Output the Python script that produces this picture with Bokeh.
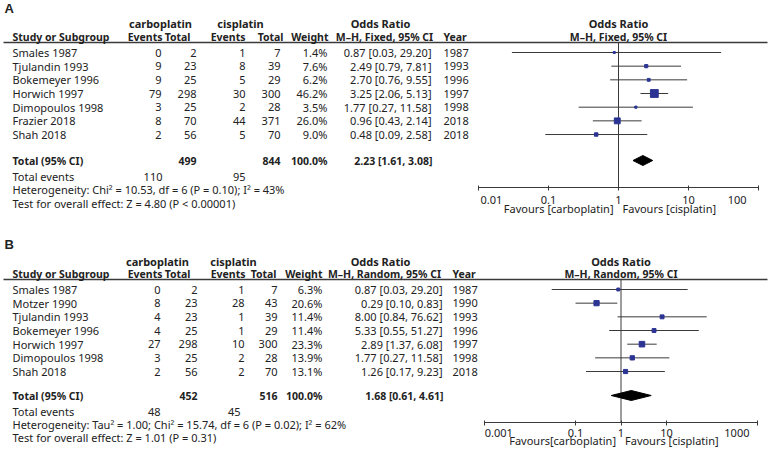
from bokeh.plotting import figure
from bokeh.models import Range1d, LogAxis, FixedTicker, LogScale
from bokeh.core.properties import value
from bokeh.embed import file_html
from bokeh.resources import INLINE

# ---------------- data: panel A (fixed effect) ----------------
studies_a = ["Smales 1987", "Tjulandin 1993", "Bokemeyer 1996", "Horwich 1997",
             "Dimopoulos 1998", "Frazier 2018", "Shah 2018"]
carbo_events_a = [0, 9, 9, 79, 3, 8, 2]
carbo_total_a = [2, 23, 25, 298, 25, 70, 56]
cis_events_a = [1, 8, 5, 30, 2, 44, 5]
cis_total_a = [7, 39, 29, 300, 28, 371, 70]
weight_a = [1.4, 7.6, 6.2, 46.2, 3.5, 26.0, 9.0]
or_a = [0.87, 2.49, 2.70, 3.25, 1.77, 0.96, 0.48]
lo_a = [0.03, 0.79, 0.76, 2.06, 0.27, 0.43, 0.09]
hi_a = [29.20, 7.81, 9.55, 5.13, 11.58, 2.14, 2.58]
year_a = [1987, 1993, 1996, 1997, 1998, 2018, 2018]
total_a = [499, 844, 100.0]          # carbo total, cis total, weight
pooled_a = [2.23, 1.61, 3.08]        # OR, lower, upper
events_a = [110, 95]
het_a = "Heterogeneity: Chi\u00b2 = 10.53, df = 6 (P = 0.10); I\u00b2 = 43%"
test_a = "Test for overall effect: Z = 4.80 (P < 0.00001)"
ticks_a = [0.01, 0.1, 1, 10, 100]
tick_labels_a = ["0.01", "0.1", "1", "10", "100"]

# ---------------- data: panel B (random effects) ----------------
studies_b = ["Smales 1987", "Motzer 1990", "Tjulandin 1993", "Bokemeyer 1996",
             "Horwich 1997", "Dimopoulos 1998", "Shah 2018"]
carbo_events_b = [0, 8, 4, 4, 27, 3, 2]
carbo_total_b = [2, 23, 23, 25, 298, 25, 56]
cis_events_b = [1, 28, 1, 1, 10, 2, 2]
cis_total_b = [7, 43, 39, 29, 300, 28, 70]
weight_b = [6.3, 20.6, 11.4, 11.4, 23.3, 13.9, 13.1]
or_b = [0.87, 0.29, 8.00, 5.33, 2.89, 1.77, 1.26]
lo_b = [0.03, 0.10, 0.84, 0.55, 1.37, 0.27, 0.17]
hi_b = [29.20, 0.83, 76.62, 51.27, 6.08, 11.58, 9.23]
year_b = [1987, 1990, 1993, 1996, 1997, 1998, 2018]
total_b = [452, 516, 100.0]
pooled_b = [1.68, 0.61, 4.61]
events_b = [48, 45]
het_b = "Heterogeneity: Tau\u00b2 = 1.00; Chi\u00b2 = 15.74, df = 6 (P = 0.02); I\u00b2 = 62%"
test_b = "Test for overall effect: Z = 1.01 (P = 0.31)"
ticks_b = [0.001, 0.1, 1, 10, 1000]
tick_labels_b = ["0.001", "0.1", "1", "10", "1000"]

# ---------------- styling ----------------
FONT = value("Noto Sans")
TXT = "#222222"
LINE = "#3a3a3a"
BLUE = "#2b3493"
FS = "11px"
FSB = "10.5px"
NB = "\u00a0"
W, H = 769, 451

p = figure(width=W, height=H, x_range=Range1d(0, W), y_range=Range1d(H, 0),
           x_axis_location=None, y_axis_location=None,
           output_backend="svg", toolbar_location=None, min_border=0)
p.xgrid.visible = False
p.ygrid.visible = False
p.outline_line_color = None
p.background_fill_color = "white"
p.border_fill_color = "white"


def txt(xs, ys, texts, align="left", bold=False, size=FS, font=FONT, xoff=0, rng="default"):
    p.text(x=xs, y=ys, text=texts, text_align=align, text_baseline="middle",
           text_font=font, text_font_size=size, x_offset=xoff, x_range_name=rng,
           text_font_style="bold" if bold else "normal", text_color=TXT)


def panel(name, label, studies, ce, ct, se, st, w, orv, lo, hi, yr, tot, pooled, ev,
          het, test, ticks, tick_labels, method, fav_left, L):
    n = len(studies)
    ys = [L["row0"] + i * L["dy"] for i in range(n)]

    # ---------- table part ----------
    p.segment(x0=[3], x1=[767], y0=[L["hline"]], y1=[L["hline"]], line_color=LINE, line_width=1.3)
    txt([4], [L["lab_y"]], [label], bold=True, size="13px", font=value("Liberation Sans"))
    h1, h2 = L["h1"], L["h2"]
    txt([L["carbo_c"]], [h1], ["carboplatin"], "center", True)
    txt([L["cis_c"]], [h1], ["cisplatin"], "center", True)
    txt([L["or_c"]], [h1], ["Odds Ratio"], "center", True)
    txt([12], [h2], ["Study or Subgroup"], "left", True, FSB)
    txt([L["ce_h"], L["se_h"]], [h2, h2], ["Events", "Events"], "right", True, FSB)
    txt([L["ct_h"], L["st_h"]], [h2, h2], ["Total", "Total"], "right", True, FSB)
    txt([L["wh"]], [h2], ["Weight"], "right", True, FSB)
    txt([L["cih"]], [h2], [method], "center", True, FSB)
    txt([L["yr"]], [h2], ["Year"], "left", True, FSB)

    txt([12] * n, ys, studies)
    txt([L["ce"]] * n, ys, [str(v) for v in ce], "right")
    txt([L["ct"]] * n, ys, [str(v) for v in ct], "right")
    txt([L["se"]] * n, ys, [str(v) for v in se], "right")
    txt([L["st"]] * n, ys, [str(v) for v in st], "right")
    txt([L["w"]] * n, ys, [f"{v:.1f}%" for v in w], "right")
    txt([L["ci"]] * n, ys, [f"{a:.2f} [{b:.2f}, {c:.2f}]" for a, b, c in zip(orv, lo, hi)], "right")
    txt([L["yr"]] * n, ys, [str(v) for v in yr])

    ty = L["tot_y"]
    txt([12], [ty], ["Total (95% CI)"], "left", True, FSB)
    txt([L["ct"], L["st"], L["w"]], [ty] * 3,
        [str(tot[0]), str(tot[1]), f"{tot[2]:.1f}%"], "right", True, FSB)
    txt([L["ci"] + 1], [ty], [f"{pooled[0]:.2f} [{pooled[1]:.2f}, {pooled[2]:.2f}]"], "right", True, FSB)
    txt([12], [L["ev_y"]], ["Total events"])
    txt([L["ev1"], L["ev2"]], [L["ev_y"]] * 2, [str(ev[0]), str(ev[1])], "right")
    txt([12], [L["het_y"]], [het])
    txt([12], [L["test_y"]], [test])

    # ---------- forest part (log odds-ratio scale) ----------
    one, dec = L["one_x"], L["dec"]
    p.extra_x_ranges[name] = Range1d(10 ** ((0 - one) / dec), 10 ** ((W - one) / dec))
    p.extra_x_scales[name] = LogScale()
    txt([1], [h1], ["Odds Ratio"], "center", True, rng=name)
    txt([1], [h2], [method], "center", True, FSB, rng=name)
    p.segment(x0=[1], x1=[1], y0=[L["hline"]], y1=[L["axis_y"]], line_color=LINE,
              line_width=1, x_range_name=name)
    p.segment(x0=lo, x1=hi, y0=ys, y1=ys, line_color=LINE, line_width=1, x_range_name=name)
    sizes = [max(2.0, 1.15 * v ** 0.5) for v in w]
    p.scatter(x=orv, y=ys, marker="square", size=sizes, color=BLUE, x_range_name=name)
    p.patch(x=[pooled[1], pooled[0], pooled[2], pooled[0]],
            y=[ty, ty - 5, ty, ty + 5], color="black", x_range_name=name)

    labels = list(tick_labels)
    labels[0] = NB * L["pad0"] + labels[0]
    labels[-1] = labels[-1] + NB * L["pad1"]
    ax = LogAxis(x_range_name=name, fixed_location=L["axis_y"], bounds=(ticks[0], ticks[-1]),
                 ticker=FixedTicker(ticks=ticks, minor_ticks=[]),
                 major_label_overrides={tk: lb for tk, lb in zip(ticks, labels)})
    ax.axis_line_color = LINE
    ax.major_tick_line_color = LINE
    ax.minor_tick_line_color = None
    ax.major_tick_in = 2
    ax.major_tick_out = 3
    ax.major_label_standoff = L["standoff"]
    ax.major_label_text_font = "Noto Sans"
    ax.major_label_text_font_size = FS
    ax.major_label_text_color = TXT
    p.add_layout(ax, "below")
    txt([1], [L["fav_y"]], [fav_left], "right", xoff=-5, rng=name)
    txt([1], [L["fav_y"]], ["Favours [cisplatin]"], "left", xoff=4, rng=name)


LA = dict(lab_y=8, h1=23, h2=36, hline=42, row0=52, dy=13.67,
          tot_y=160, ev_y=176, het_y=189, test_y=203, axis_y=187, fav_y=208,
          one_x=618, dec=70, standoff=1,
          carbo_c=160, cis_c=240, or_c=380,
          ce=161, ct=196, se=245, st=280, w=327, ci=431, yr=443,
          ce_h=162, ct_h=190, se_h=245, st_h=283, wh=328, cih=384,
          ev1=162, ev2=245, pad0=9, pad1=8)
LB = dict(lab_y=244, h1=261, h2=273, hline=279, row0=289, dy=13.67,
          tot_y=395, ev_y=411, het_y=424, test_y=437, axis_y=422, fav_y=440,
          one_x=620.5, dec=45.5, standoff=-1,
          carbo_c=157, cis_c=233, or_c=380,
          ce=160, ct=197, se=244, st=277, w=322, ci=442, yr=452,
          ce_h=162, ct_h=190, se_h=245, st_h=276, wh=322, cih=384,
          ev1=160, ev2=240, pad0=10, pad1=7)

panel("logA", "A", studies_a, carbo_events_a, carbo_total_a, cis_events_a, cis_total_a,
      weight_a, or_a, lo_a, hi_a, year_a, total_a, pooled_a, events_a, het_a, test_a,
      ticks_a, tick_labels_a, "M\u2013H, Fixed, 95% CI", "Favours [carboplatin]", LA)
panel("logB", "B", studies_b, carbo_events_b, carbo_total_b, cis_events_b, cis_total_b,
      weight_b, or_b, lo_b, hi_b, year_b, total_b, pooled_b, events_b, het_b, test_b,
      ticks_b, tick_labels_b, "M\u2013H, Random, 95% CI", "Favours[carboplatin]", LB)

open("out.html", "w").write(file_html(p, INLINE))
